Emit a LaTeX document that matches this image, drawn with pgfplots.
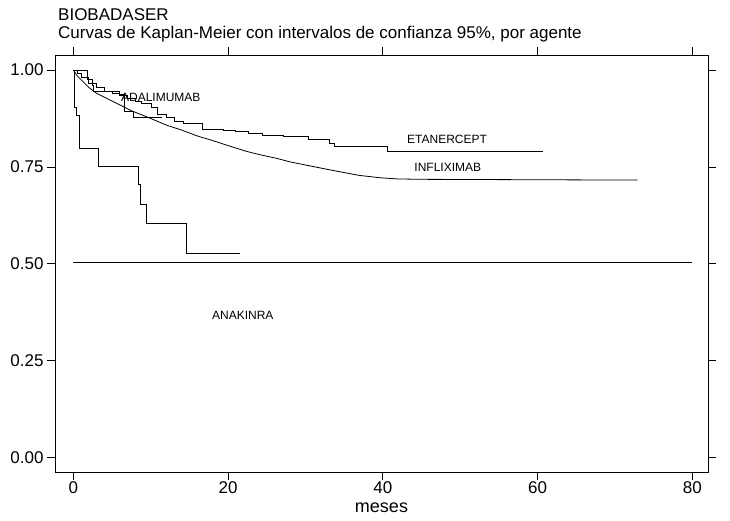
\documentclass[border=0pt]{standalone}
\usepackage{fontspec}
\setmainfont{Liberation Sans}
\usepackage{pgfplots}
\pgfplotsset{compat=1.18}
\begin{document}
\begin{tikzpicture}
\begin{axis}[name=ax,
  scale only axis, width=653pt, height=417pt,
  xmin=-2.37, xmax=82.03, ymin=-0.0369, ymax=1.0387,
  xtick={0,20,40,60,80}, ytick={0,0.25,0.5,0.75,1},
  yticklabel style={/pgf/number format/fixed,/pgf/number format/precision=2,/pgf/number format/fixed zerofill},
  /pgf/number format/assume math mode=true,
  tick align=outside, major tick length=8pt,
  tick style={black, line width=0.8pt},
  axis line style={line width=0.8pt},
  ticklabel style={font=\fontsize{17}{19}\selectfont},
  xticklabel style={yshift=2pt},
  every axis plot/.append style={black, line width=0.8pt},
  clip=false,
]
% Etanercept
\addplot[black, const plot] coordinates {(0,1)(0.5,0.99)(1,0.98)(2,0.966)(3,0.955)(4,0.946)(5,0.94)(6,0.934)(7,0.928)(8,0.92)(8.8,0.914)(10.1,0.903)(10.9,0.886)(12,0.878)(13.1,0.868)(14.2,0.861)(16.7,0.848)(19.4,0.845)(20.9,0.841)(22.6,0.836)(24.4,0.832)(27.2,0.828)(30.4,0.820)(33.1,0.811)(33.7,0.802)(40.6,0.789)(60.7,0.789)};
% Infliximab
\addplot[black] coordinates {(0,1)(0.5,0.985)(1,0.975)(2,0.955)(3,0.94)(5,0.92)(7.5,0.895)(10,0.875)(12,0.858)(14,0.845)(16,0.83)(18,0.818)(20,0.805)(22.4,0.79)(24,0.782)(26.3,0.772)(28,0.763)(31,0.751)(33,0.743)(35.4,0.734)(37,0.728)(39.7,0.722)(41.9,0.719)(45,0.718)(72.9,0.716)};
% Adalimumab
\addplot[black, const plot] coordinates {(0,1)(1.8,0.976)(2.5,0.96)(2.6,0.946)(6,0.937)(6.6,0.894)(7.7,0.877)(11.4,0.877)};
% Anakinra
\addplot[black, const plot] coordinates {(0,1)(0.2,0.904)(0.43,0.882)(0.78,0.797)(3.3,0.751)(8.45,0.705)(8.7,0.654)(9.5,0.604)(14.55,0.527)(21.6,0.527)};
% Anakinra lower line
\addplot[black] coordinates {(0,0.503)(80,0.503)};
\node[font=\fontsize{12}{14}\selectfont] at (axis cs:11.3,0.930) {ADALIMUMAB};
\node[font=\fontsize{12}{14}\selectfont] at (axis cs:48.3,0.822) {ETANERCEPT};
\node[font=\fontsize{12}{14}\selectfont] at (axis cs:48.4,0.750) {INFLIXIMAB};
\node[font=\fontsize{12}{14}\selectfont] at (axis cs:21.9,0.368) {ANAKINRA};
\end{axis}
\node[anchor=base, font=\fontsize{18}{20}\selectfont, inner sep=0pt] at ([yshift=-41pt]ax.south) {meses};
\node[anchor=base west, font=\fontsize{17}{19}\selectfont, inner sep=0pt] at ([xshift=3pt,yshift=34pt]ax.north west) {BIOBADASER};
\node[anchor=base west, font=\fontsize{17}{19}\selectfont, inner sep=0pt] at ([xshift=3pt,yshift=16.5pt]ax.north west) {Curvas de Kaplan-Meier con intervalos de confianza 95\%, por agente};
\pgfresetboundingbox
\path ([shift={(-55pt,-49pt)}]ax.south west) rectangle ([shift={(22pt,55pt)}]ax.north east);
\end{tikzpicture}
\end{document}
